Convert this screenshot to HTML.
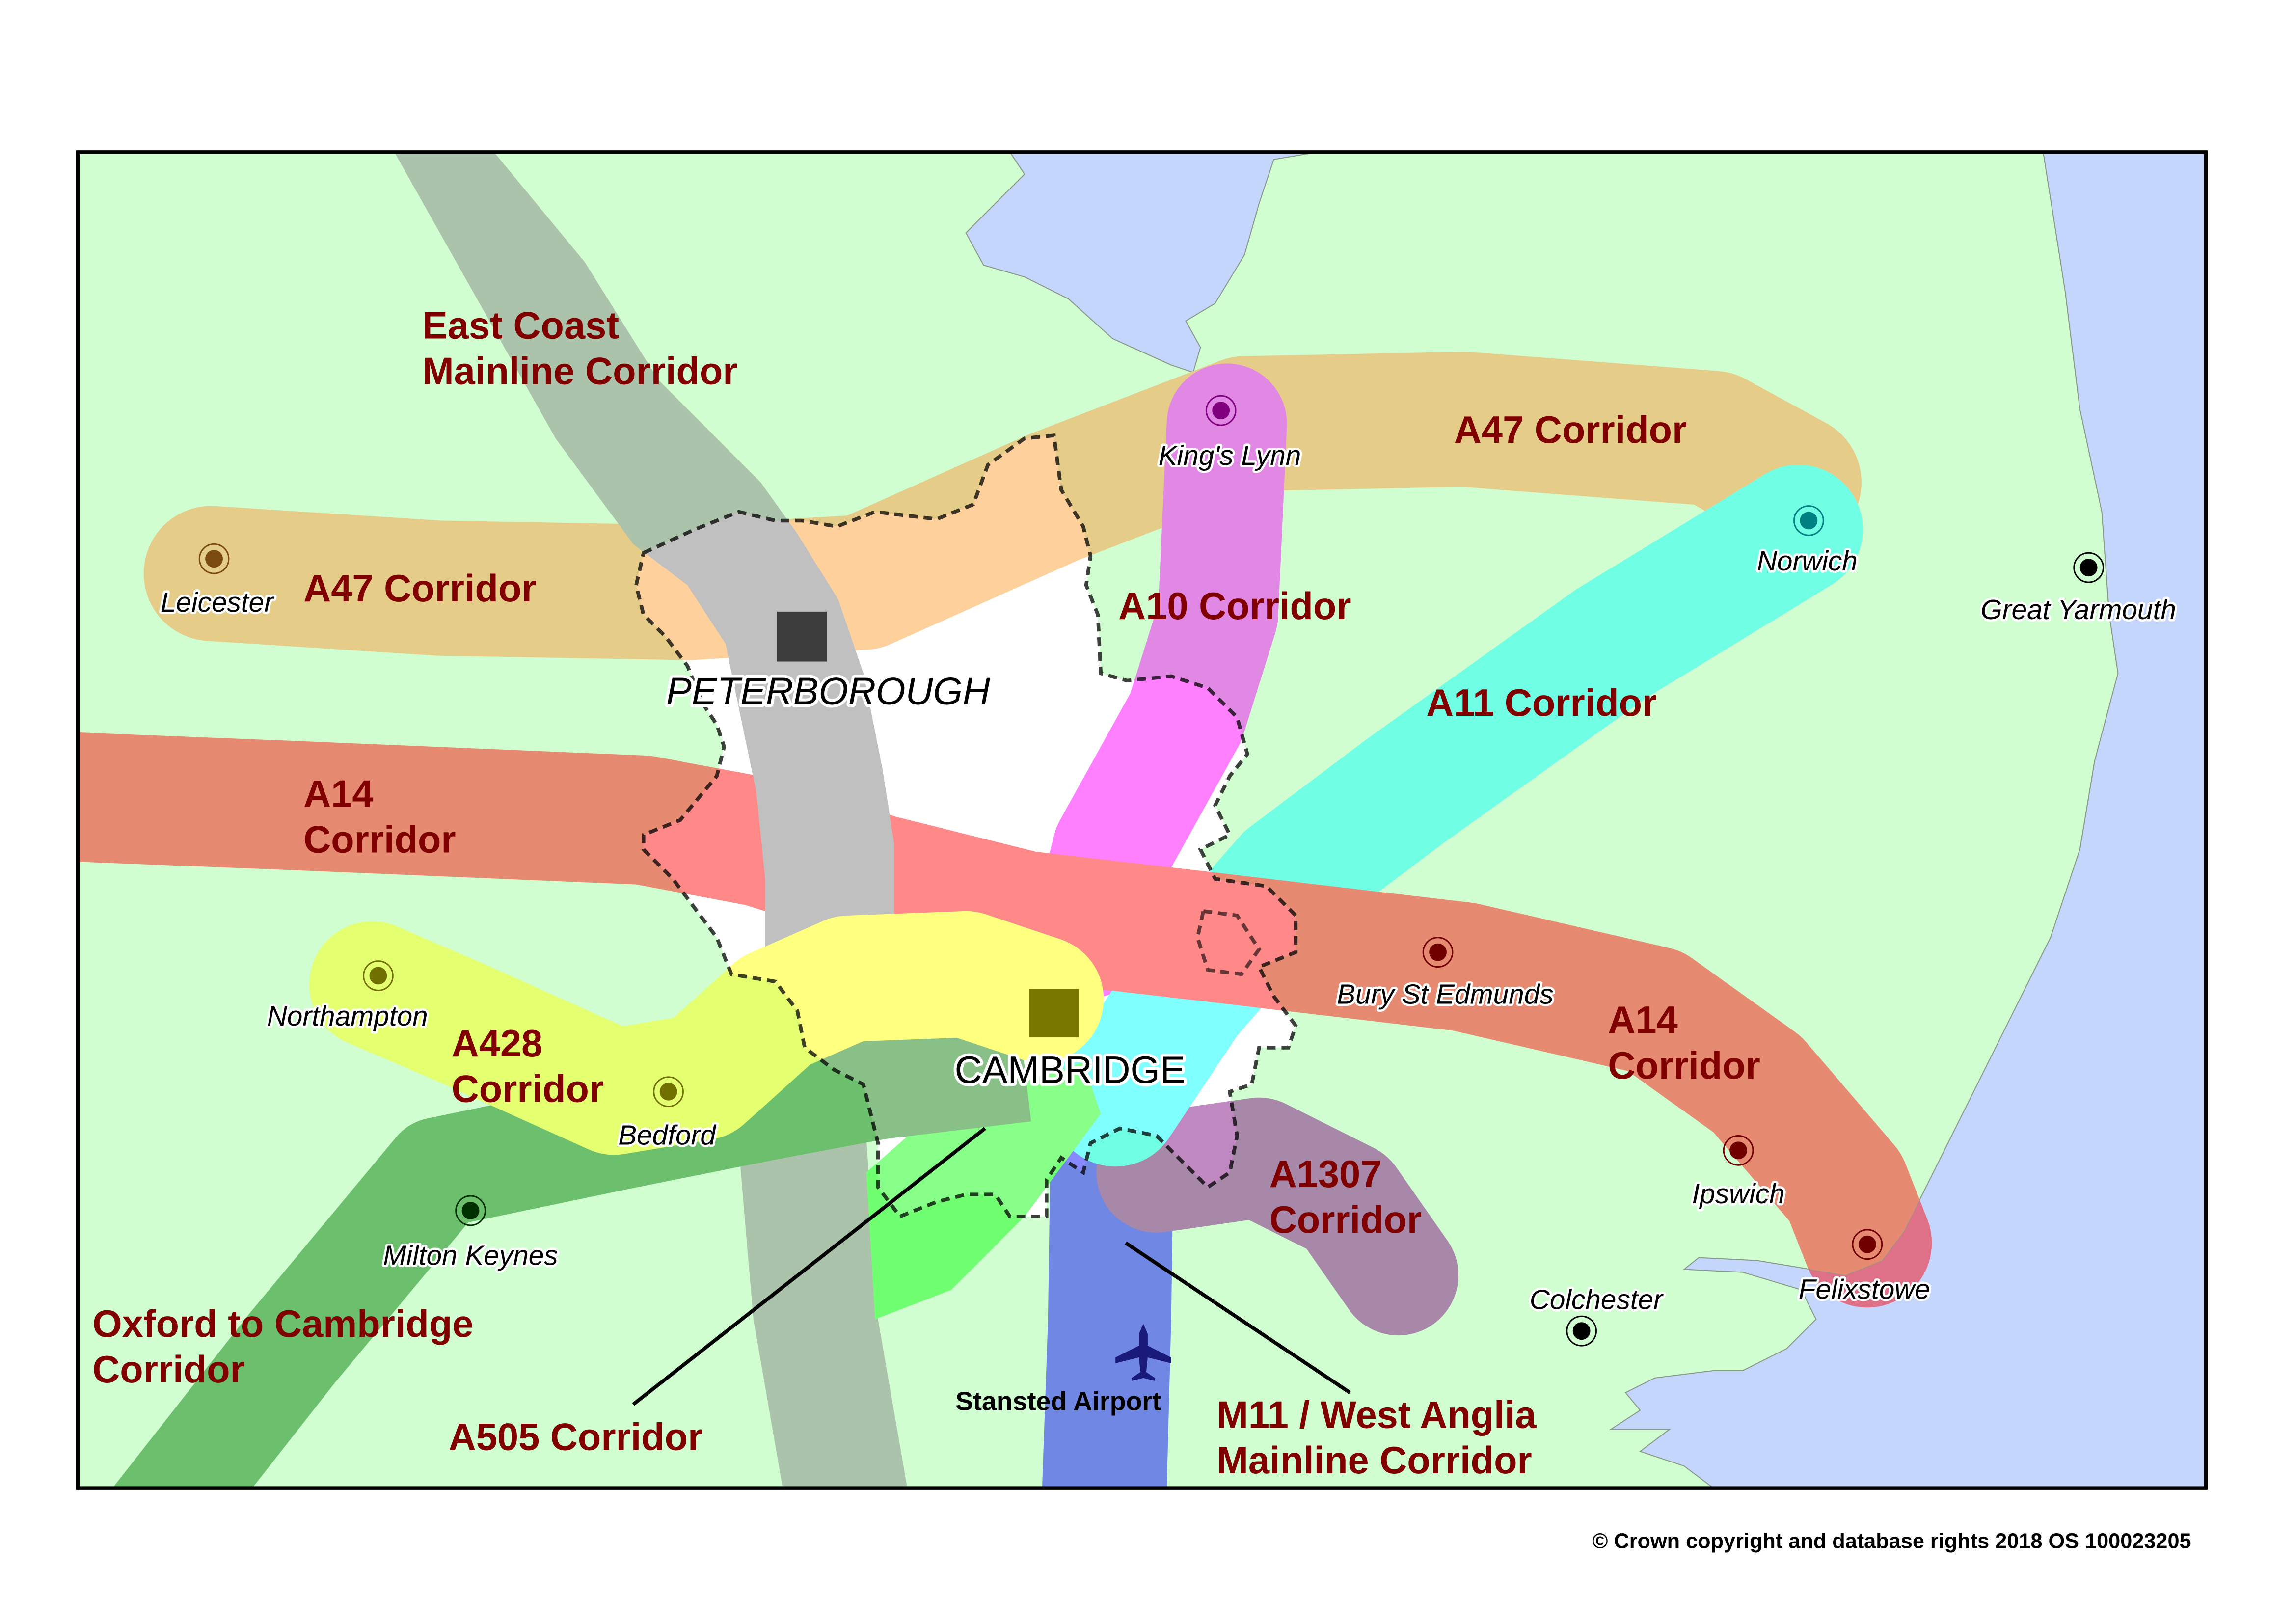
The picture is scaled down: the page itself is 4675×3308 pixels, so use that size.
<!DOCTYPE html>
<html><head><meta charset="utf-8"><style>
html,body{margin:0;padding:0;background:#fff;}
svg{display:block;}
.lab{font-family:"Liberation Sans",sans-serif;font-weight:bold;font-size:26px;fill:#800000;}
.town{font-family:"Liberation Sans",sans-serif;font-style:italic;font-size:19px;fill:#000;stroke:#fff;stroke-width:3px;paint-order:stroke;stroke-linejoin:round;}
.city{font-family:"Liberation Sans",sans-serif;font-size:26px;fill:#000;stroke:#fff;stroke-width:4px;paint-order:stroke;stroke-linejoin:round;}
</style></head><body>
<svg width="4675" height="3308" viewBox="0 0 1558.33 1102.67" xmlns="http://www.w3.org/2000/svg">
<defs>
<clipPath id="frame"><rect x="54" y="105" width="1452" height="910"/></clipPath>
<clipPath id="county"><path id="cty" d="M440,378 L475,362 L505,350 L530,356 L548,356 L572,360 L598,350 L640,355 L665,345 L675,318 L700,300 L720,298 L725,335 L740,360 L745,380 L742,400 L750,420 L752,460 L770,465 L800,462 L825,470 L845,490 L852,515 L840,530 L830,550 L840,570 L820,580 L830,600 L865,605 L885,625 L885,650 L860,660 L870,680 L885,700 L880,715 L860,715 L855,740 L840,745 L845,775 L840,800 L825,810 L800,785 L790,775 L765,770 L745,780 L740,800 L725,790 L715,805 L715,830 L690,830 L680,815 L660,815 L640,820 L615,830 L600,810 L600,780 L590,740 L570,730 L550,715 L545,690 L530,670 L500,665 L490,640 L475,620 L460,600 L440,580 L440,570 L465,560 L490,530 L495,510 L490,495 L480,480 L470,455 L455,435 L440,420 L435,400 Z"/></clipPath>
<path id="a47" d="M145,392 L300,402 L470,405 L590,398 L720,340 L850,290 L1000,287 L1170,300 L1225,330" fill="none" stroke-width="92" stroke-linecap="round" stroke-linejoin="round"/>
<path id="a10" d="M838,290 L832,420 L810,490 L760,580 L745,640" fill="none" stroke-width="82" stroke-linecap="round" stroke-linejoin="round"/>
<path id="m11" d="M718,760 L802,760 L800,900 L797,1015 L712,1015 L716,900 Z"/>
<path id="a1307" d="M790,800 L860,790 L920,820 L955,870" fill="none" stroke-width="82" stroke-linecap="round" stroke-linejoin="round"/>
<path id="a11" d="M1228,362 L1100,440 L960,540 L880,600 L810,680 L762,752" fill="none" stroke-width="88" stroke-linecap="round" stroke-linejoin="round"/>
<path id="a14" d="M20,543 L200,550 L440,560 L520,575 L600,600 L700,625 L830,640 L1000,660 L1130,690 L1200,740 L1260,810 L1275,848" fill="none" stroke-width="88" stroke-linecap="round" stroke-linejoin="round"/>
<path id="ecml" d="M270,105 L338,105 L400,180 L450,260 L520,330 L545,365 L573,410 L590,460 L603,525 L611,576 L611,700 L590,745 L600,900 L620,1015 L535,1015 L515,900 L503,760 L523,650 L523,600 L517,541 L496,440 L470,400 L433,372 L380,300 Z"/>
<path id="a505" d="M592,800 L640,758 L740,725 L752,760 L700,830 L650,880 L598,900 Z"/>
<path id="oxc" d="M90,1060 L200,920 L300,800 L420,775 L520,755 L600,740 L700,728" fill="none" stroke-width="75" stroke-linejoin="round"/>
<path id="a428" d="M255,672 L320,700 L420,745 L480,735 L530,690 L580,668 L660,665 L711,682" fill="none" stroke-width="86" stroke-linecap="round" stroke-linejoin="round"/>
<clipPath id="landonly"><path d="M54,105 L690,105 L700,120 L680,140 L660,160 L672,182 L700,190 L730,205 L760,232 L800,250 L815,255 L820,238 L810,220 L830,208 L850,175 L860,140 L870,110 L900,105 L1395,105 L1410,200 L1420,280 L1435,350 L1440,420 L1446,460 L1430,520 L1420,580 L1400,640 L1370,700 L1340,760 L1310,820 L1300,840 L1285,860 L1260,870 L1230,865 L1200,860 L1160,858 L1150,866 L1190,868 L1230,880 L1240,900 L1220,920 L1190,935 L1170,935 L1130,940 L1110,950 L1120,962 L1100,975 L1140,975 L1120,990 L1150,1000 L1170,1015 L54,1015 Z"/></clipPath>
</defs>
<rect x="0" y="0" width="1558.33" height="1102.67" fill="#fff"/>
<g transform="translate(-0.94,-1.37) scale(0.9952,0.9968)">
<g clip-path="url(#frame)">
<rect x="54" y="105" width="1452" height="910" fill="#c4d6fc"/>
<use href="#a14" stroke="#de7088"/>
<path d="M54,105 L690,105 L700,120 L680,140 L660,160 L672,182 L700,190 L730,205 L760,232 L800,250 L815,255 L820,238 L810,220 L830,208 L850,175 L860,140 L870,110 L900,105 L1395,105 L1410,200 L1420,280 L1435,350 L1440,420 L1446,460 L1430,520 L1420,580 L1400,640 L1370,700 L1340,760 L1310,820 L1300,840 L1285,860 L1260,870 L1230,865 L1200,860 L1160,858 L1150,866 L1190,868 L1230,880 L1240,900 L1220,920 L1190,935 L1170,935 L1130,940 L1110,950 L1120,962 L1100,975 L1140,975 L1120,990 L1150,1000 L1170,1015 L54,1015 Z" fill="#d0fed0" stroke="#8a9a8a" stroke-width="0.7"/>
<use href="#cty" fill="#fff"/>
<use href="#a47" stroke="#e5cc88"/>
<use href="#a10" stroke="#e088e4"/>
<use href="#m11" fill="#7088e4"/>
<use href="#a1307" stroke="#a888a8"/>
<use href="#a11" stroke="#70ffe4"/>
<use href="#a14" stroke="#e68a72" clip-path="url(#landonly)"/>
<use href="#ecml" fill="#abc2ab"/>
<use href="#a505" fill="#70ff70"/>
<use href="#oxc" stroke="#6cbf6c"/>
<use href="#a428" stroke="#e4ff70"/>
<g clip-path="url(#county)">
<use href="#a47" stroke="#fed09c"/>
<use href="#a10" stroke="#ff80ff"/>
<use href="#m11" fill="#8888ff"/>
<use href="#a1307" stroke="#c088c0"/>
<use href="#a11" stroke="#80ffff"/>
<use href="#a14" stroke="#ff8888"/>
<use href="#ecml" fill="#c0c0c0"/>
<use href="#a505" fill="#88ff88"/>
<use href="#oxc" stroke="#88c088"/>
<use href="#a428" stroke="#ffff80"/>
</g>
<use href="#cty" fill="none" stroke="#000" stroke-opacity="0.75" stroke-width="2.5" stroke-dasharray="6,4"/>
<path d="M822,622 L845,625 L860,648 L848,665 L825,662 L818,640 Z" fill="none" stroke="#000" stroke-opacity="0.6" stroke-width="2.5" stroke-dasharray="6,4"/>
</g>
<rect x="54" y="105" width="1452" height="910" fill="none" stroke="#000" stroke-width="2.5"/>
<rect x="531" y="418" width="34" height="34" fill="#3c3c3c"/>
<rect x="703" y="675" width="34" height="33" fill="#787800"/>
<text class="city" x="566" y="481" text-anchor="middle" font-style="italic">PETERBOROUGH</text>
<text class="city" x="731" y="739" text-anchor="middle">CAMBRIDGE</text>
<g stroke-width="1">
<circle cx="834" cy="281" r="10" fill="none" stroke="#800080"/><circle cx="834" cy="281" r="6" fill="#800080"/>
<circle cx="1235" cy="356" r="10" fill="none" stroke="#008080"/><circle cx="1235" cy="356" r="6" fill="#008080"/>
<circle cx="1426" cy="388" r="10" fill="none" stroke="#000"/><circle cx="1426" cy="388" r="6" fill="#000"/>
<circle cx="147" cy="382" r="10" fill="none" stroke="#7a4a10"/><circle cx="147" cy="382" r="6" fill="#7a4a10"/>
<circle cx="259" cy="666" r="10" fill="none" stroke="#707000"/><circle cx="259" cy="666" r="6" fill="#707000"/>
<circle cx="457" cy="745" r="10" fill="none" stroke="#707000"/><circle cx="457" cy="745" r="6" fill="#707000"/>
<circle cx="322" cy="826" r="10" fill="none" stroke="#003000"/><circle cx="322" cy="826" r="6" fill="#003000"/>
<circle cx="982" cy="650" r="10" fill="none" stroke="#700000"/><circle cx="982" cy="650" r="6" fill="#700000"/>
<circle cx="1187" cy="785" r="10" fill="none" stroke="#700000"/><circle cx="1187" cy="785" r="6" fill="#700000"/>
<circle cx="1275" cy="849" r="10" fill="none" stroke="#700000"/><circle cx="1275" cy="849" r="6" fill="#700000"/>
<circle cx="1080" cy="908" r="10" fill="none" stroke="#000"/><circle cx="1080" cy="908" r="6" fill="#000"/>
</g>
<text class="town" x="840" y="318" text-anchor="middle">King's Lynn</text>
<text class="town" x="1234" y="390" text-anchor="middle">Norwich</text>
<text class="town" x="1419" y="423" text-anchor="middle">Great Yarmouth</text>
<text class="town" x="149" y="418" text-anchor="middle">Leicester</text>
<text class="town" x="238" y="700" text-anchor="middle">Northampton</text>
<text class="town" x="456" y="781" text-anchor="middle">Bedford</text>
<text class="town" x="322" y="863" text-anchor="middle">Milton Keynes</text>
<text class="town" x="987" y="685" text-anchor="middle">Bury St Edmunds</text>
<text class="town" x="1187" y="821" text-anchor="middle">Ipswich</text>
<text class="town" x="1273" y="886" text-anchor="middle">Felixstowe</text>
<text class="town" x="1090" y="893" text-anchor="middle">Colchester</text>
<text class="lab" x="289" y="232">East Coast</text>
<text class="lab" x="289" y="263">Mainline Corridor</text>
<text class="lab" x="993" y="303">A47 Corridor</text>
<text class="lab" x="208" y="411">A47 Corridor</text>
<text class="lab" x="764" y="423">A10 Corridor</text>
<text class="lab" x="974" y="489">A11 Corridor</text>
<text class="lab" x="208" y="551">A14</text>
<text class="lab" x="208" y="582">Corridor</text>
<text class="lab" x="1098" y="705">A14</text>
<text class="lab" x="1098" y="736">Corridor</text>
<text class="lab" x="309" y="721">A428</text>
<text class="lab" x="309" y="752">Corridor</text>
<text class="lab" x="867" y="810">A1307</text>
<text class="lab" x="867" y="841">Corridor</text>
<text class="lab" x="64" y="912">Oxford to Cambridge</text>
<text class="lab" x="64" y="943">Corridor</text>
<text class="lab" x="307" y="989">A505 Corridor</text>
<text class="lab" x="831" y="974">M11 / West Anglia</text>
<text class="lab" x="831" y="1005">Mainline Corridor</text>
<line x1="433" y1="958" x2="673" y2="770" stroke="#000" stroke-width="2.5"/>
<line x1="769" y1="848" x2="922" y2="950" stroke="#000" stroke-width="2.5"/>
<path d="M781,903 L784,910 L784,918 L800,926 L800,930 L784,926 L783,936 L789,940 L789,942 L781,940 L773,942 L773,940 L779,936 L778,926 L762,930 L762,926 L778,918 L778,910 Z" fill="#1a1a7a"/>
<text x="723" y="962" text-anchor="middle" font-family="Liberation Sans, sans-serif" font-weight="bold" font-size="18">Stansted Airport</text>
<text x="1496" y="1056" text-anchor="end" font-family="Liberation Sans, sans-serif" font-weight="bold" font-size="14.5">© Crown copyright and database rights 2018 OS 100023205</text>
</g>
</svg>
</body></html>
